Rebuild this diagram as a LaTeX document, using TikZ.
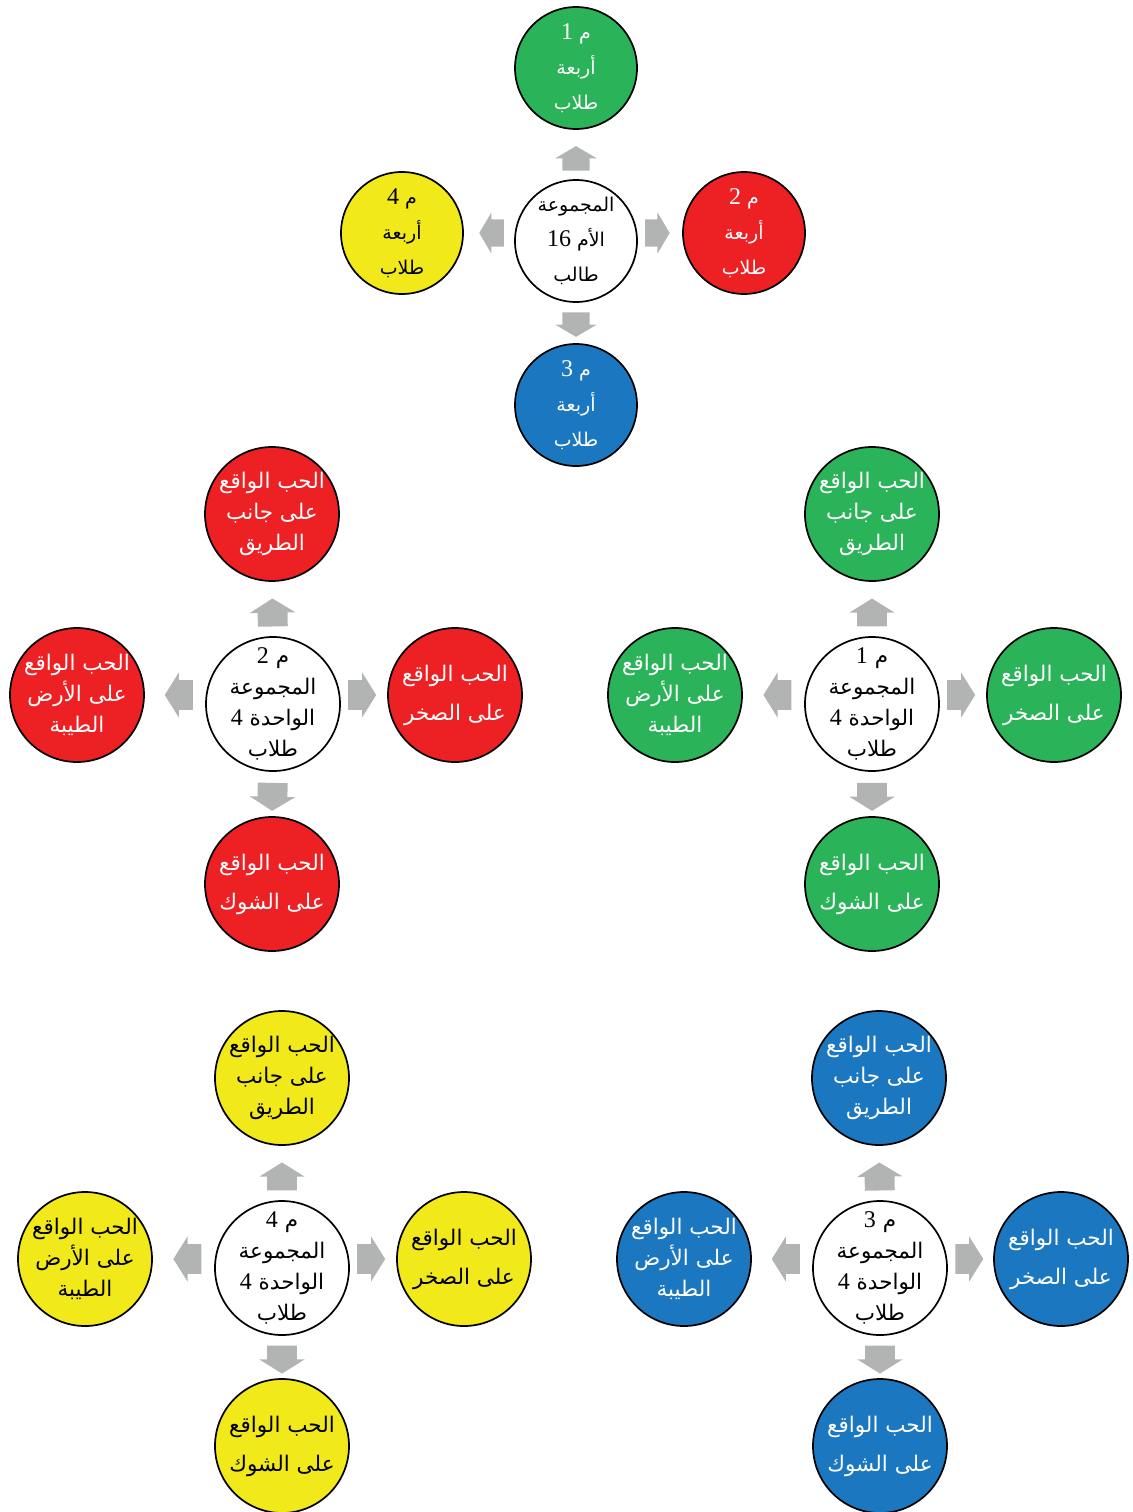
\documentclass[tikz,border=0pt]{standalone}
\usepackage{fontspec}
\setmainfont{Liberation Serif}
\newfontfamily\arabicfont[Script=Arabic]{DejaVu Sans}
\TeXXeTstate=1
\usetikzlibrary{shapes.arrows}

\definecolor{grpgreen}{HTML}{2BB35A}
\definecolor{grpred}{HTML}{ED2024}
\definecolor{grpyellow}{HTML}{F2E91A}
\definecolor{grpblue}{HTML}{1B78C0}
\definecolor{arrowgray}{HTML}{B2B4B3}

\newcommand{\rl}[1]{\beginR #1\endR}
\newcommand{\dig}[1]{\beginL{\rmfamily\fontsize{24}{24}\selectfont #1}\endL}
\newcommand{\roadside}{\rl{الحب الواقع}\\\rl{على جانب}\\\rl{الطريق}}
\newcommand{\rocks}{\rl{الحب الواقع}\\[8pt]\rl{على الصخر}}
\newcommand{\thorns}{\rl{الحب الواقع}\\[8pt]\rl{على الشوك}}
\newcommand{\goodsoil}{\rl{الحب الواقع}\\\rl{على الأرض}\\\rl{الطيبة}}
\newcommand{\unitlabel}[1]{\rl{م \dig{#1}}\\\rl{المجموعة}\\\rl{الواحدة \dig{4}}\\\rl{طلاب}}
\newcommand{\grplabel}[1]{\rl{م \dig{#1}}\\\rl{أربعة}\\\rl{طلاب}}

\begin{document}
\begin{tikzpicture}[x=1pt, y=-1pt,
  ball/.style={circle, draw=black, line width=1.7pt, minimum size=134pt, inner sep=-16pt,
    align=center, font=\arabicfont\fontsize{21.5}{31}\selectfont},
  small/.style={minimum size=122pt, font=\arabicfont\fontsize{19}{35}\selectfont},
  wball/.style={ball, fill=white},
  gball/.style={ball, fill=grpgreen, text=white},
  rball/.style={ball, fill=grpred, text=white},
  yball/.style={ball, fill=grpyellow},
  bball/.style={ball, fill=grpblue, text=white},
  blockarr/.style={single arrow, fill=arrowgray, draw=none, inner sep=0pt, inner ysep=14.75pt,
    minimum height=28pt, single arrow head extend=7.75pt, single arrow tip angle=116,
    sloped, allow upside down},
  smallarr/.style={blockarr, inner ysep=13.5pt, minimum height=24.5pt,
    single arrow head extend=7pt, single arrow tip angle=119}]
\useasboundingbox (0,0) rectangle (1132,1512);

% mother group
\node[wball, small] (mom) at (576,241) {\rl{المجموعة}\\\rl{الأم \dig{16}}\\\rl{طالب}};
\node[gball, small] (grp1) at (576,68) {\grplabel{1}};
\node[rball, small] (grp2) at (744,233) {\grplabel{2}};
\node[bball, small] (grp3) at (576,405) {\grplabel{3}};
\node[yball, small] (grp4) at (402,233) {\grplabel{4}};
\path (mom.north) -- node[smallarr, pos=.34] (a1) {} (grp1.south);
\path (mom.east |- grp2) -- node[smallarr, pos=.35] (a2) {} (grp2.west);
\path (mom.south) -- node[smallarr, pos=.44] (a3) {} (grp3.north);
\path (mom.west |- grp4) -- node[smallarr, pos=.37] (a4) {} (grp4.east);

% unit 2
\node[wball] (u2) at (273,704) {\unitlabel{2}};
\node[rball] (u2n) at (272,514) {\roadside};
\node[rball] (u2e) at (455,695) {\rocks};
\node[rball] (u2s) at (272,884) {\thorns};
\node[rball] (u2w) at (77,695) {\goodsoil};
\path (u2.north) -- node[blockarr, pos=.35] (u2a1) {} (u2n.south);
\path (u2.east |- u2e) -- node[blockarr, pos=.36] (u2a2) {} (u2e.west);
\path (u2.south) -- node[blockarr, pos=.46] (u2a3) {} (u2s.north);
\path (u2.west |- u2w) -- node[blockarr, pos=.36] (u2a4) {} (u2w.east);

% unit 1
\node[wball] (u1) at (872,704) {\unitlabel{1}};
\node[gball] (u1n) at (872,514) {\roadside};
\node[gball] (u1e) at (1054,695) {\rocks};
\node[gball] (u1s) at (872,884) {\thorns};
\node[gball] (u1w) at (675,695) {\goodsoil};
\path (u1.north) -- node[blockarr, pos=.35] (u1a1) {} (u1n.south);
\path (u1.east |- u1e) -- node[blockarr, pos=.36] (u1a2) {} (u1e.west);
\path (u1.south) -- node[blockarr, pos=.46] (u1a3) {} (u1s.north);
\path (u1.west |- u1w) -- node[blockarr, pos=.36] (u1a4) {} (u1w.east);

% unit 4
\node[wball] (u4) at (282,1268) {\unitlabel{4}};
\node[yball] (u4n) at (282,1078) {\roadside};
\node[yball] (u4e) at (464,1259) {\rocks};
\node[yball] (u4s) at (282,1446) {\thorns};
\node[yball] (u4w) at (85,1259) {\goodsoil};
\path (u4.north) -- node[blockarr, pos=.35] (u4a1) {} (u4n.south);
\path (u4.east |- u4e) -- node[blockarr, pos=.36] (u4a2) {} (u4e.west);
\path (u4.south) -- node[blockarr, pos=.45] (u4a3) {} (u4s.north);
\path (u4.west |- u4w) -- node[blockarr, pos=.36] (u4a4) {} (u4w.east);

% unit 3
\node[wball] (u3) at (880,1268) {\unitlabel{3}};
\node[bball] (u3n) at (879,1078) {\roadside};
\node[bball] (u3e) at (1061,1259) {\rocks};
\node[bball] (u3s) at (880,1446) {\thorns};
\node[bball] (u3w) at (684,1259) {\goodsoil};
\path (u3.north) -- node[blockarr, pos=.35] (u3a1) {} (u3n.south);
\path (u3.east |- u3e) -- node[blockarr, pos=.37] (u3a2) {} (u3e.west);
\path (u3.south) -- node[blockarr, pos=.45] (u3a3) {} (u3s.north);
\path (u3.west |- u3w) -- node[blockarr, pos=.36] (u3a4) {} (u3w.east);
\end{tikzpicture}
\end{document}
